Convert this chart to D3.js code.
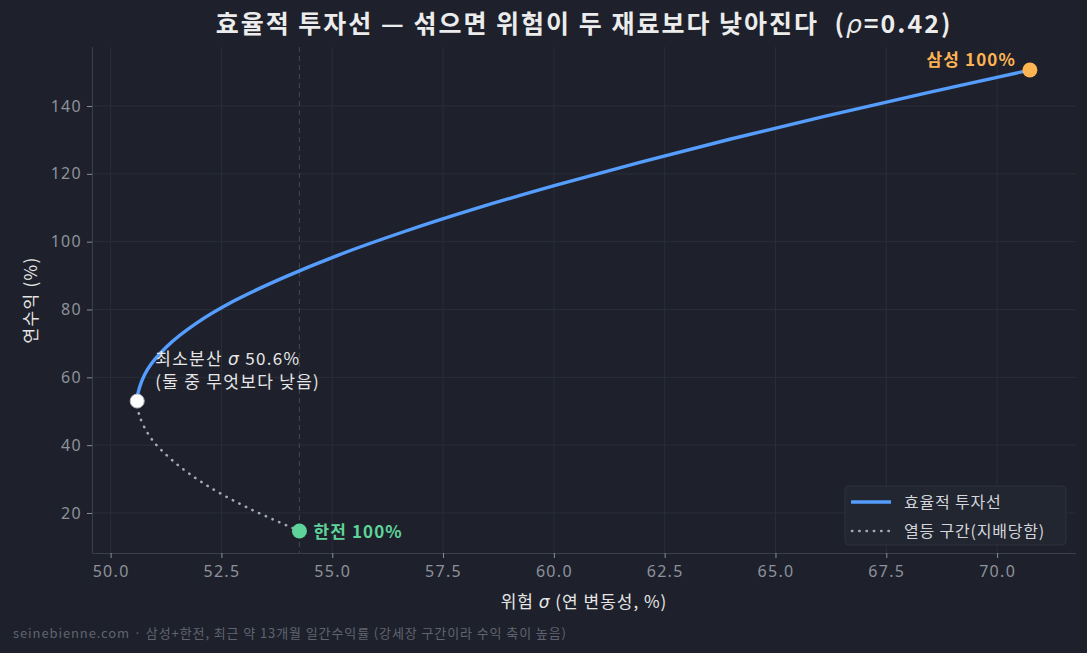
<!DOCTYPE html>
<meta charset="utf-8">
<style>
body { margin: 0; background: #1e212b; }
svg { display: block; font-family: "Noto Sans CJK KR", "Noto Sans", sans-serif; }
.axis .domain { stroke: #3a3e49; }
.axis line { stroke: #8a8f99; }
.axis text { fill: #8d929c; font-size: 16px; letter-spacing: 1.3px; font-family: "Noto Sans", sans-serif; }
</style>
<svg width="1087" height="653"></svg>
<script src="https://d3js.org/d3.v7.min.js"></script>
<script>

// portfolio points: sigma (%) / annual return (%)
var effSigma  = [50.60, 50.62, 50.83, 51.27, 51.93, 52.81, 53.90, 55.17, 56.63, 58.25, 60.03, 61.94, 63.97, 66.13, 68.39, 70.74];
var effReturn = [53.0, 55.5, 62.3, 69.1, 75.9, 82.7, 89.4, 96.2, 103.0, 109.8, 116.6, 123.4, 130.2, 137.0, 143.8, 150.6];
var infSigma  = [54.26, 53.10, 52.15, 51.43, 50.92, 50.65, 50.60];
var infReturn = [14.7, 21.5, 28.3, 35.1, 41.9, 48.7, 53.0];

var assetNames  = ["삼성 100%", "한전 100%"];
var assetSigma  = [70.74, 54.26];
var assetReturn = [150.6, 14.7];
var minSigma = 50.60, minReturn = 53.0;

var xTicks = [50.0, 52.5, 55.0, 57.5, 60.0, 62.5, 65.0, 67.5, 70.0];
var yTicks = [20, 40, 60, 80, 100, 120, 140];
var legendLabels = ["효율적 투자선", "열등 구간(지배당함)"];

var svg = d3.select("svg"),
    margin = {top: 47, right: 11, bottom: 100, left: 92},
    width = +svg.attr("width") - margin.left - margin.right,
    height = +svg.attr("height") - margin.top - margin.bottom;

svg.append("rect").attr("width", 1087).attr("height", 653).attr("fill", "#1e212b");

var g = svg.append("g").attr("transform", "translate(" + margin.left + "," + margin.top + ")");

var x = d3.scaleLinear().domain([49.58, 71.78]).range([0, width]);
var y = d3.scaleLinear().domain([8.2, 157.4]).range([height, 0]);

// grid
g.append("g").selectAll("line").data(xTicks).enter().append("line")
    .attr("x1", function(d) { return x(d); }).attr("x2", function(d) { return x(d); })
    .attr("y1", 0).attr("y2", height)
    .attr("stroke", "#2a2e38").attr("stroke-width", 1);
g.append("g").selectAll("line").data(yTicks).enter().append("line")
    .attr("y1", function(d) { return y(d); }).attr("y2", function(d) { return y(d); })
    .attr("x1", 0).attr("x2", width)
    .attr("stroke", "#2a2e38").attr("stroke-width", 1);

// axes
g.append("g")
    .attr("class", "axis")
    .attr("transform", "translate(0," + height + ")")
    .call(d3.axisBottom(x).tickValues(xTicks).tickFormat(d3.format(".1f")).tickSize(5).tickPadding(8))
    .call(function(a) { a.select(".domain").attr("d", "M0.5,0.5H" + width); });

g.append("g")
    .attr("class", "axis")
    .call(d3.axisLeft(y).tickValues(yTicks).tickSize(5).tickPadding(5))
    .call(function(a) { a.select(".domain").attr("d", "M0.5," + height + "V0"); });

// vertical dashed reference at KEPCO sigma
g.append("line")
    .attr("x1", x(assetSigma[1])).attr("x2", x(assetSigma[1]))
    .attr("y1", 0).attr("y2", height)
    .attr("stroke", "#3c414d").attr("stroke-width", 1.2)
    .attr("stroke-dasharray", "5,4");

var line = d3.line()
    .x(function(d) { return x(d[0]); })
    .y(function(d) { return y(d[1]); })
    .curve(d3.curveCatmullRom.alpha(0.5));

var effPts = d3.zip(effSigma, effReturn),
    infPts = d3.zip(infSigma, infReturn);

g.append("path")
    .datum(infPts)
    .attr("d", line)
    .attr("fill", "none")
    .attr("stroke", "#a6aab3")
    .attr("stroke-width", 2.6)
    .attr("stroke-linecap", "round")
    .attr("stroke-dasharray", "0.3,7");

g.append("path")
    .datum(effPts)
    .attr("d", line)
    .attr("fill", "none")
    .attr("stroke", "#559dff")
    .attr("stroke-width", 3.4);

// markers
var assetColors = ["#ffb454", "#5ed39a"];
g.selectAll(".asset").data(assetNames).enter().append("circle")
    .attr("cx", function(d, i) { return x(assetSigma[i]); })
    .attr("cy", function(d, i) { return y(assetReturn[i]); })
    .attr("r", 7.5)
    .attr("fill", function(d, i) { return assetColors[i]; });

g.append("circle")
    .attr("cx", x(minSigma)).attr("cy", y(minReturn)).attr("r", 7)
    .attr("fill", "#ffffff").attr("stroke", "#b9bcc3").attr("stroke-width", 1);

// asset labels
g.append("text")
    .attr("x", x(assetSigma[0]) - 14).attr("y", y(assetReturn[0]) - 10)
    .attr("dy", "0.35em")
    .attr("text-anchor", "end")
    .attr("fill", assetColors[0])
    .attr("font-size", 17).attr("font-weight", "bold").attr("letter-spacing", 1.1)
    .text(assetNames[0]);

g.append("text")
    .attr("x", x(assetSigma[1]) + 14).attr("y", y(assetReturn[1]) + 1)
    .attr("dy", "0.35em")
    .attr("fill", assetColors[1])
    .attr("font-size", 17).attr("font-weight", "bold").attr("letter-spacing", 1.1)
    .text(assetNames[1]);

// min variance annotation
var ann = g.append("text")
    .attr("x", x(minSigma) + 18).attr("y", y(minReturn) - 36)
    .attr("fill", "#e6e6e6").attr("font-size", 17).attr("letter-spacing", 1.3);
ann.append("tspan").text("최소분산 ");
ann.append("tspan").attr("font-style", "italic").attr("font-family", "DejaVu Sans").text("σ");
ann.append("tspan").text(" " + d3.format(".1f")(minSigma) + "%");
g.append("text")
    .attr("x", x(minSigma) + 18).attr("y", y(minReturn) - 13)
    .attr("fill", "#e6e6e6").attr("font-size", 17).attr("letter-spacing", 1.3)
    .text("(둘 중 무엇보다 낮음)");

// legend
var lg = g.append("g").attr("transform", "translate(" + (width - 231) + "," + (height - 67) + ")");
lg.append("rect")
    .attr("width", 221).attr("height", 59).attr("rx", 4)
    .attr("fill", "#222631").attr("stroke", "#2e323d");
lg.append("line").attr("x1", 6).attr("x2", 46).attr("y1", 16).attr("y2", 16)
    .attr("stroke", "#559dff").attr("stroke-width", 3.4);
lg.append("line").attr("x1", 7).attr("x2", 46).attr("y1", 45).attr("y2", 45)
    .attr("stroke", "#a6aab3").attr("stroke-width", 2.6)
    .attr("stroke-linecap", "round").attr("stroke-dasharray", "0.3,7");
lg.selectAll("text").data(legendLabels).enter().append("text")
    .attr("x", 59).attr("y", function(d, i) { return 16 + i * 29; })
    .attr("dy", "0.35em")
    .attr("fill", "#d4d6db").attr("font-size", 16).attr("letter-spacing", 0.8)
    .text(function(d) { return d; });

// titles
var title = svg.append("text")
    .attr("x", margin.left + width / 2).attr("y", 33)
    .attr("text-anchor", "middle")
    .attr("fill", "#ececec").attr("font-size", 25).attr("font-weight", "bold")
    .attr("letter-spacing", 2)
    .attr("xml:space", "preserve")
    .style("white-space", "pre");
title.append("tspan").text("효율적 투자선 — 섞으면 위험이 두 재료보다 낮아진다  (");
title.append("tspan").attr("font-style", "italic").attr("font-family", "DejaVu Sans").attr("font-weight", "normal").text("ρ");
title.append("tspan").text("=0.42)");

var xl = svg.append("text")
    .attr("x", margin.left + width / 2).attr("y", 608)
    .attr("text-anchor", "middle")
    .attr("fill", "#e6e6e6").attr("font-size", 17).attr("letter-spacing", 1);
xl.append("tspan").text("위험 ");
xl.append("tspan").attr("font-style", "italic").attr("font-family", "DejaVu Sans").text("σ");
xl.append("tspan").text(" (연 변동성, %)");

svg.append("text")
    .attr("transform", "translate(37," + (margin.top + height / 2) + ") rotate(-90)")
    .attr("text-anchor", "middle")
    .attr("fill", "#e6e6e6").attr("font-size", 17).attr("letter-spacing", 1.3)
    .text("연수익 (%)");

svg.append("text")
    .attr("x", 13).attr("y", 638)
    .attr("fill", "#5f6470").attr("font-size", 13).attr("letter-spacing", 0.9)
    .text("seinebienne.com  ·  삼성+한전, 최근 약 13개월 일간수익률 (강세장 구간이라 수익 축이 높음)");

</script>
